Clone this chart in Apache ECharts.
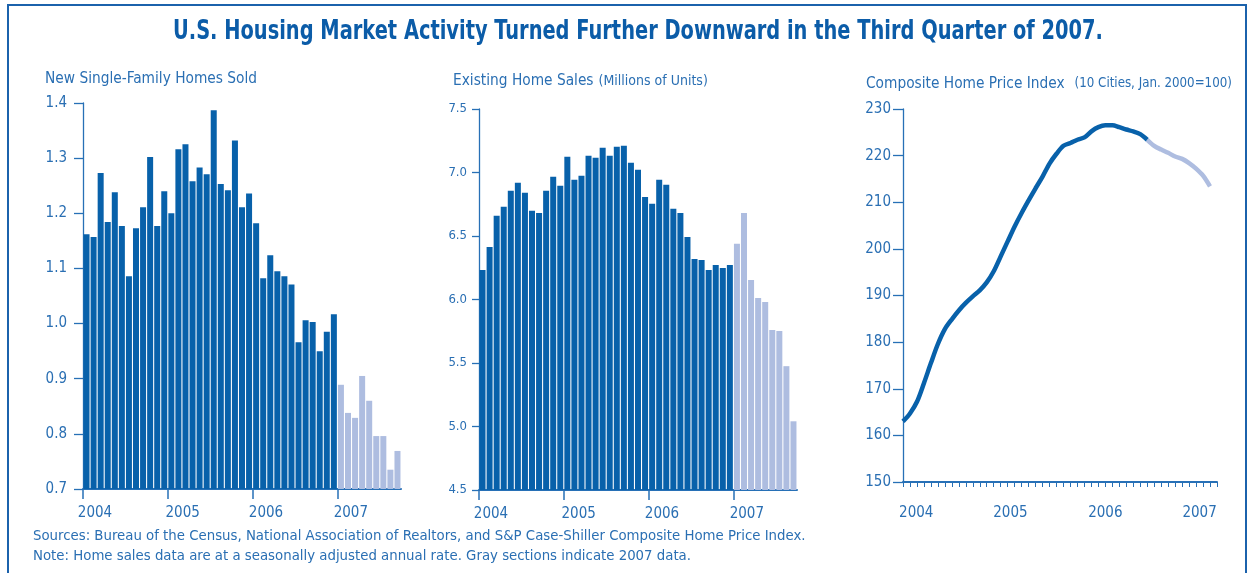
<!DOCTYPE html>
<html><head><meta charset="utf-8">
<script src="https://cdn.jsdelivr.net/npm/echarts@6/dist/echarts.min.js"></script>
<style>html,body{margin:0;padding:0;background:#fff}#c{width:1250px;height:573px}</style>
</head><body><div id="c"></div>
<script>
// ---- data ----
const monthsPerChart = 45;            // Jan 2004 .. Sep 2007
const firstGrayIndex = 36;            // Jan 2007
const yearLabels = ['2004', '2005', '2006', '2007'];
const yearTickMonths = [0, 12, 24, 36];
const barLabelMonths = [1.7, 14.1, 25.9, 37.9];
const lineLabelMonths = [1.9, 15.4, 29.0, 42.5];

const newHomeSales = [1.162,1.157,1.273,1.184,1.238,1.177,1.086,1.173,1.211,1.302,1.177,1.240,
  1.200,1.316,1.325,1.258,1.283,1.271,1.387,1.253,1.242,1.332,1.211,1.236,
  1.182,1.082,1.124,1.095,1.086,1.071,0.966,1.006,1.003,0.950,0.985,1.017,
  0.889,0.838,0.829,0.905,0.860,0.796,0.796,0.735,0.769];
const existingHomeSales = [6.233,6.414,6.659,6.730,6.856,6.919,6.840,6.698,6.682,6.856,6.966,6.895,
  7.124,6.943,6.974,7.132,7.116,7.195,7.132,7.203,7.211,7.077,7.021,6.808,
  6.753,6.943,6.903,6.714,6.682,6.493,6.319,6.311,6.233,6.272,6.248,6.272,
  6.438,6.682,6.154,6.012,5.980,5.759,5.751,5.475,5.041];
const homePriceIndex = [163.0,164.7,167.2,171.2,175.5,179.6,182.8,184.9,186.8,188.4,189.8,191.1,
  192.8,195.2,198.4,201.6,204.8,207.7,210.4,213.0,215.5,218.3,220.4,222.1,
  222.7,223.4,223.9,225.2,226.1,226.5,226.5,226.1,225.6,225.2,224.6,223.4,
  222.1,221.3,220.6,219.8,219.3,218.4,217.2,215.7,213.4];

const mainTitle = 'U.S. Housing Market Activity Turned Further Downward in the Third Quarter of 2007.';

// ---- style ----
const FONT = "'Liberation Sans Narrow','DejaVu Sans Condensed','Roboto Condensed',sans-serif";
const DARK = '#0861aa';
const LIGHT = '#aebde0';
const AXIS = '#2770b6';
const TXT = '#2a6fb3';

const monthCats = newHomeSales.map((_, i) => 'm' + i);
const monthIdx = Array.from({length: monthsPerChart + 1}, (_, i) => i);

function yearFmt(positions) {
  return v => {
    const i = positions.findIndex(p => Math.abs(p - v) < 1e-6);
    return i >= 0 ? yearLabels[i] : '';
  };
}
function barItems(arr) {
  return arr.map((v, i) => ({value: v, itemStyle: {color: i >= firstGrayIndex ? LIGHT : DARK}}));
}

const grids = [
  {left: 83, top: 103, width: 318, height: 386},
  {left: 479, top: 109, width: 318, height: 381},
  {left: 903, top: 109, width: 314, height: 373}
];

const xAxes = [];
const yAxes = [];
[0, 1].forEach(g => {
  xAxes.push({
    type: 'category', gridIndex: g, data: monthCats, boundaryGap: true,
    axisLine: {lineStyle: {color: AXIS, width: 2}},
    axisTick: {interval: 0, length: 6, lineStyle: {color: AXIS, width: 1}},
    axisLabel: {show: false}, splitLine: {show: false}
  });
  xAxes.push({
    type: 'value', gridIndex: g, position: 'bottom', min: 0, max: monthsPerChart,
    axisLine: {show: false},
    axisTick: {show: true, customValues: yearTickMonths, length: 10, lineStyle: {color: AXIS, width: 1.5}},
    axisLabel: {customValues: barLabelMonths, formatter: yearFmt(barLabelMonths), margin: 17,
      color: TXT, fontFamily: FONT, fontSize: 15},
    splitLine: {show: false}
  });
});
xAxes.push({
  type: 'value', gridIndex: 2, min: 0, max: monthsPerChart,
  axisLine: {lineStyle: {color: AXIS, width: 2}},
  axisTick: {show: true, customValues: monthIdx, length: 5, lineStyle: {color: AXIS, width: 1}},
  axisLabel: {customValues: lineLabelMonths, formatter: yearFmt(lineLabelMonths), margin: 24,
    color: TXT, fontFamily: FONT, fontSize: 15},
  splitLine: {show: false}
});

function yAxis(g, min, max, interval, dec, tickLen, margin, fs) {
  return {
    type: 'value', gridIndex: g, min: min, max: max, interval: interval,
    axisLine: {show: true, lineStyle: {color: AXIS, width: 1.3}},
    axisTick: {show: true, length: tickLen, lineStyle: {color: AXIS, width: 1.3}},
    axisLabel: {formatter: v => v.toFixed(dec), margin: margin, color: TXT, fontFamily: FONT, fontSize: fs},
    splitLine: {show: false}
  };
}
yAxes.push(yAxis(0, 0.7, 1.4, 0.1, 1, 9, 16, 15));
yAxes.push(yAxis(1, 4.5, 7.5, 0.5, 1, 7, 12, 13));
yAxes.push(yAxis(2, 150, 230, 10, 0, 10, 12, 15));

const hpiDark = homePriceIndex.slice(0, firstGrayIndex).map((v, i) => [i, v]);
const hpiGray = homePriceIndex.map((v, i) => [i, v]).slice(firstGrayIndex - 1);

const sub = {fontFamily: FONT, fontSize: 15.3, fontWeight: 'normal', color: TXT};
const subMid = {fontFamily: FONT, fontSize: 14, fontWeight: 'normal', color: TXT};
const subSmall = {fontFamily: FONT, fontSize: 13.2, fontWeight: 'normal', color: TXT};

const option = {
  animation: false,
  backgroundColor: '#fff',
  graphic: [
    {type: 'rect', shape: {x: 8, y: 5, width: 1238, height: 620},
      style: {fill: 'none', stroke: '#1b62ac', lineWidth: 2}},
    {type: 'text', x: 173, y: 32, scaleX: 0.83,
      style: {text: mainTitle, font: 'bold 26px ' + FONT, fill: '#0b5ca8', verticalAlign: 'middle', align: 'left'}}
  ],
  title: [
    {text: 'New Single-Family Homes Sold', left: 45, top: 72, padding: 0, textStyle: sub},
    {text: '{a|Existing Home Sales} {b|(Millions of Units)}', left: 453, top: 72, padding: 0,
      textStyle: {fontWeight: 'normal', rich: {a: sub, b: subMid}}},
    {text: '{a|Composite Home Price Index}  {b|(10 Cities, Jan. 2000=100)}', left: 866, top: 75, padding: 0,
      textStyle: {fontWeight: 'normal', rich: {a: sub, b: subSmall}}},
    {text: 'Sources: Bureau of the Census, National Association of Realtors, and S&P Case-Shiller Composite Home Price Index.\nNote: Home sales data are at a seasonally adjusted annual rate. Gray sections indicate 2007 data.',
      left: 33, top: 526, padding: 0,
      textStyle: {fontFamily: FONT, fontSize: 14.8, fontWeight: 'normal', color: TXT, lineHeight: 20}}
  ],
  grid: grids,
  xAxis: xAxes,
  yAxis: yAxes,
  series: [
    {type: 'bar', xAxisIndex: 0, yAxisIndex: 0, data: barItems(newHomeSales), barCategoryGap: '15%'},
    {type: 'bar', xAxisIndex: 2, yAxisIndex: 1, data: barItems(existingHomeSales), barCategoryGap: '15%'},
    {type: 'line', xAxisIndex: 4, yAxisIndex: 2, data: hpiDark, smooth: 0.3, showSymbol: false,
      lineStyle: {color: DARK, width: 4.5}, z: 3},
    {type: 'line', xAxisIndex: 4, yAxisIndex: 2, data: hpiGray, smooth: 0.3, showSymbol: false,
      lineStyle: {color: LIGHT, width: 4.5}, z: 2}
  ]
};
echarts.init(document.getElementById('c'), null, {renderer: 'canvas'}).setOption(option);
</script></body></html>
